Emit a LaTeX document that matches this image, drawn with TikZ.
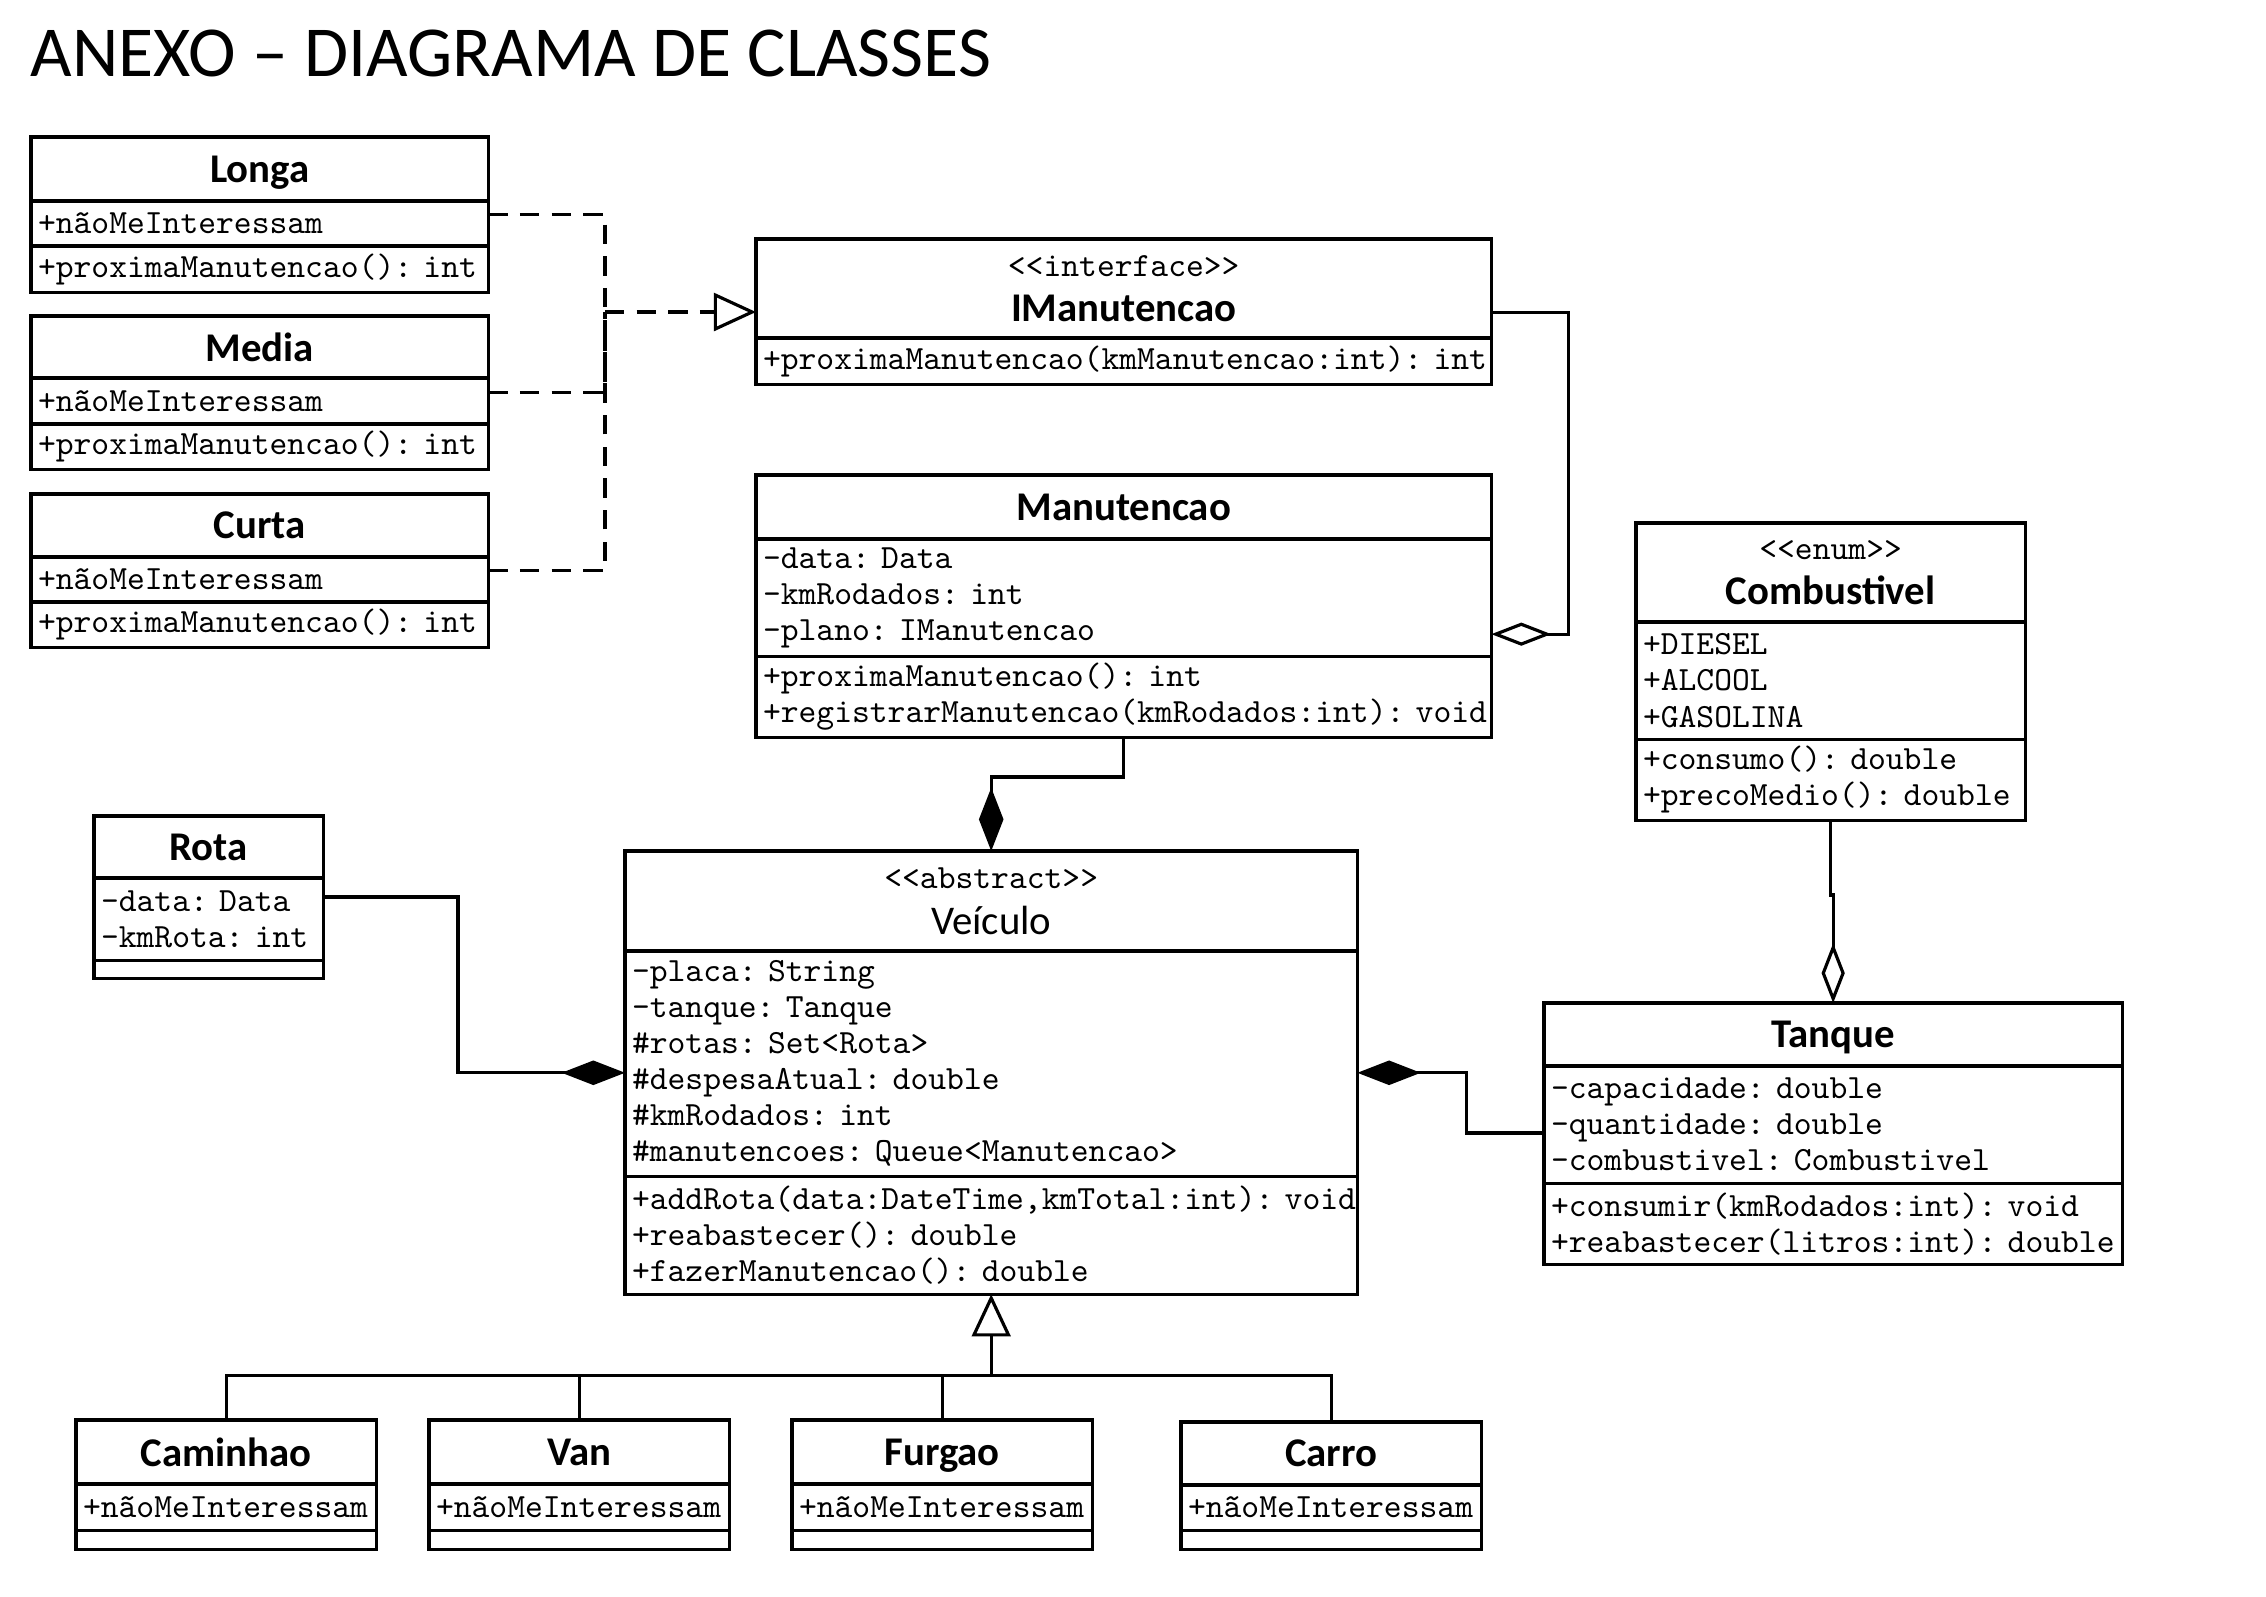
\documentclass[tikz,border=0pt]{standalone}
\usepackage{fontspec}
\usetikzlibrary{positioning, arrows.meta}
\newfontfamily\carlito{Carlito}
\newcommand\namefont{\carlito\bfseries\fontsize{11.6pt}{12.9pt}\selectfont}
\newcommand\attrfont{\ttfamily\mdseries\fontsize{9.65pt}{10.25pt}\selectfont}
\newcommand\titlefont{\carlito\fontsize{20.4pt}{24pt}\selectfont}
\newcommand\stereo[1]{{\attrfont<\kern0pt<#1>\kern0pt>}}
\hyphenpenalty=10000
\exhyphenpenalty=10000

\tikzset{
    uml/.style={draw, line width=0.9pt, outer sep=0pt, inner ysep=0pt, inner xsep=0.07cm},
    head/.style={uml, font=\namefont, align=center, text depth=0pt},
    body/.style={uml, font=\attrfont, align=left},
    conn/.style={line width=0.9pt},
    realiz/.style={conn, dash pattern=on 5.5pt off 3.5pt},
    compo/.style={conn, {Diamond[length=18pt,width=7pt]}-},
    aggr/.style={conn, {Diamond[open,length=17pt,width=6.6pt]}-},
    inherit/.style={conn, -{Triangle[open,length=12pt,width=11pt]}}
}

\begin{document}
\begin{tikzpicture}[x=0.01cm, y=-0.01cm]
    \useasboundingbox (0,0) rectangle (2266,1596);

    \node[font=\titlefont, anchor=base west, inner sep=0pt] (title) at (30,76) {ANEXO – DIAGRAMA DE CLASSES};

    % planos de manutencao
    \node[head, anchor=north west, minimum width=4.57cm, minimum height=0.64cm] (longa-h) at (31,137) {Longa};
    \node[body, below=0pt of longa-h, text width=4.43cm, minimum height=0.45cm] (longa-a) {+nãoMeInteressam};
    \node[body, below=0pt of longa-a, text width=4.43cm, minimum height=0.46cm] (longa-m) {+proximaManutencao():~int};

    \node[head, anchor=north west, minimum width=4.57cm, minimum height=0.62cm] (media-h) at (31,316) {Media};
    \node[body, below=0pt of media-h, text width=4.43cm, minimum height=0.46cm] (media-a) {+nãoMeInteressam};
    \node[body, below=0pt of media-a, text width=4.43cm, minimum height=0.45cm] (media-m) {+proximaManutencao():~int};

    \node[head, anchor=north west, minimum width=4.57cm, minimum height=0.63cm] (curta-h) at (31,494) {Curta};
    \node[body, below=0pt of curta-h, text width=4.43cm, minimum height=0.45cm] (curta-a) {+nãoMeInteressam};
    \node[body, below=0pt of curta-a, text width=4.43cm, minimum height=0.45cm] (curta-m) {+proximaManutencao():~int};

    \node[head, anchor=north west, minimum width=7.35cm, minimum height=0.99cm] (iman-h) at (756,239) {\stereo{interface}\\IManutencao};
    \node[body, below=0pt of iman-h, text width=7.21cm, minimum height=0.46cm] (iman-m) {+proximaManutencao(kmManutencao:int):~int};

    \node[head, anchor=north west, minimum width=7.35cm, minimum height=0.64cm] (man-h) at (756,475) {Manutencao};
    \node[body, below=0pt of man-h, text width=7.21cm, minimum height=1.17cm] (man-a) {-data:~Data\\-kmRodados:~int\\-plano:~IManutencao};
    \node[body, below=0pt of man-a, text width=7.21cm, minimum height=0.81cm] (man-m) {+proximaManutencao():~int\\+registrarManutencao(kmRodados:int):~void};

    \node[head, anchor=north west, minimum width=3.89cm, minimum height=0.99cm] (comb-h) at (1636,523) {\stereo{enum}\\Combustivel};
    \node[body, below=0pt of comb-h, text width=3.75cm, minimum height=1.17cm] (comb-a) {+DIESEL\\+ALCOOL\\+GASOLINA};
    \node[body, below=0pt of comb-a, text width=3.75cm, minimum height=0.81cm] (comb-m) {+consumo():~double\\+precoMedio():~double};

    \node[head, anchor=north west, minimum width=2.29cm, minimum height=0.62cm] (rota-h) at (94,816) {Rota};
    \node[body, below=0pt of rota-h, text width=2.15cm, minimum height=0.82cm] (rota-a) {-data:~Data\\-kmRota:~int};
    \node[body, below=0pt of rota-a, text width=2.15cm, minimum height=0.18cm] (rota-m) {};

    \node[head, anchor=north west, minimum width=7.32cm, minimum height=1cm] (veh-h) at (625,851) {\stereo{abstract}\\\mdseries Veículo};
    \node[body, below=0pt of veh-h, text width=7.18cm, minimum height=2.25cm] (veh-a) {-placa:~String\\-tanque:~Tanque\\\#rotas:~Set<Rota>\\\#despesaAtual:~double\\\#kmRodados:~int\\\#manutencoes:~Queue<Manutencao>};
    \node[body, below=0pt of veh-a, text width=7.18cm, minimum height=1.18cm] (veh-m) {+addRota(data:DateTime,kmTotal:int):~void\\+reabastecer():~double\\+fazerManutencao():~double};

    \node[head, anchor=north west, minimum width=5.78cm, minimum height=0.63cm] (tan-h) at (1544,1003) {Tanque};
    \node[body, below=0pt of tan-h, text width=5.64cm, minimum height=1.17cm] (tan-a) {-capacidade:~double\\-quantidade:~double\\-combustivel:~Combustivel};
    \node[body, below=0pt of tan-a, text width=5.64cm, minimum height=0.81cm] (tan-m) {+consumir(kmRodados:int):~void\\+reabastecer(litros:int):~double};

    % subclasses de Veiculo
    \node[head, anchor=north west, minimum width=3cm, minimum height=0.64cm] (caminhao-h) at (76,1420) {Caminhao};
    \node[body, below=0pt of caminhao-h, text width=2.86cm, minimum height=0.46cm] (caminhao-a) {+nãoMeInteressam};
    \node[body, below=0pt of caminhao-a, text width=2.86cm, minimum height=0.19cm] (caminhao-m) {};

    \node[head, anchor=north west, minimum width=3cm, minimum height=0.64cm] (van-h) at (429,1420) {Van};
    \node[body, below=0pt of van-h, text width=2.86cm, minimum height=0.46cm] (van-a) {+nãoMeInteressam};
    \node[body, below=0pt of van-a, text width=2.86cm, minimum height=0.19cm] (van-m) {};

    \node[head, anchor=north west, minimum width=3cm, minimum height=0.64cm] (furgao-h) at (792,1420) {Furgao};
    \node[body, below=0pt of furgao-h, text width=2.86cm, minimum height=0.46cm] (furgao-a) {+nãoMeInteressam};
    \node[body, below=0pt of furgao-a, text width=2.86cm, minimum height=0.19cm] (furgao-m) {};

    \node[head, anchor=north west, minimum width=3cm, minimum height=0.63cm] (carro-h) at (1181,1422) {Carro};
    \node[body, below=0pt of carro-h, text width=2.86cm, minimum height=0.45cm] (carro-a) {+nãoMeInteressam};
    \node[body, below=0pt of carro-a, text width=2.86cm, minimum height=0.19cm] (carro-m) {};

    % realizacao de IManutencao
    \coordinate (impl) at (605,312);
    \foreach \c in {longa,media,curta}
        \draw[realiz] ([yshift=2.5pt]\c-a.east) -| (impl);
    \draw[realiz, -{Triangle[open,length=12pt,width=10.8pt]}] (impl) -- (impl -| iman-h.west);

    \draw[aggr] ([yshift=-10.4pt]man-a.east) -- ++(77,0) |- ([yshift=-6.7pt]iman-h.east);
    \draw[compo] (veh-h.north) -- ++(0,-74) -| (man-m.south);
    \draw[compo] ([yshift=-2.6pt]veh-a.west) -- ++(-167,0) |- ([yshift=6.3pt]rota-a.east);
    \draw[compo] ([yshift=-2.6pt]veh-a.east) -- ++(109,0) |- ([yshift=-2.4pt]tan-a.west);
    \draw[aggr] (tan-h.north) -- ++(0,-108) -| (comb-m.south);

    % heranca
    \coordinate (gen) at ([yshift=-0.81cm]veh-m.south);
    \draw[inherit] (gen) -- (veh-m.south);
    \foreach \c in {caminhao,van,furgao,carro}
        \draw[conn] (\c-h.north) |- (gen);

\end{tikzpicture}
\end{document}
